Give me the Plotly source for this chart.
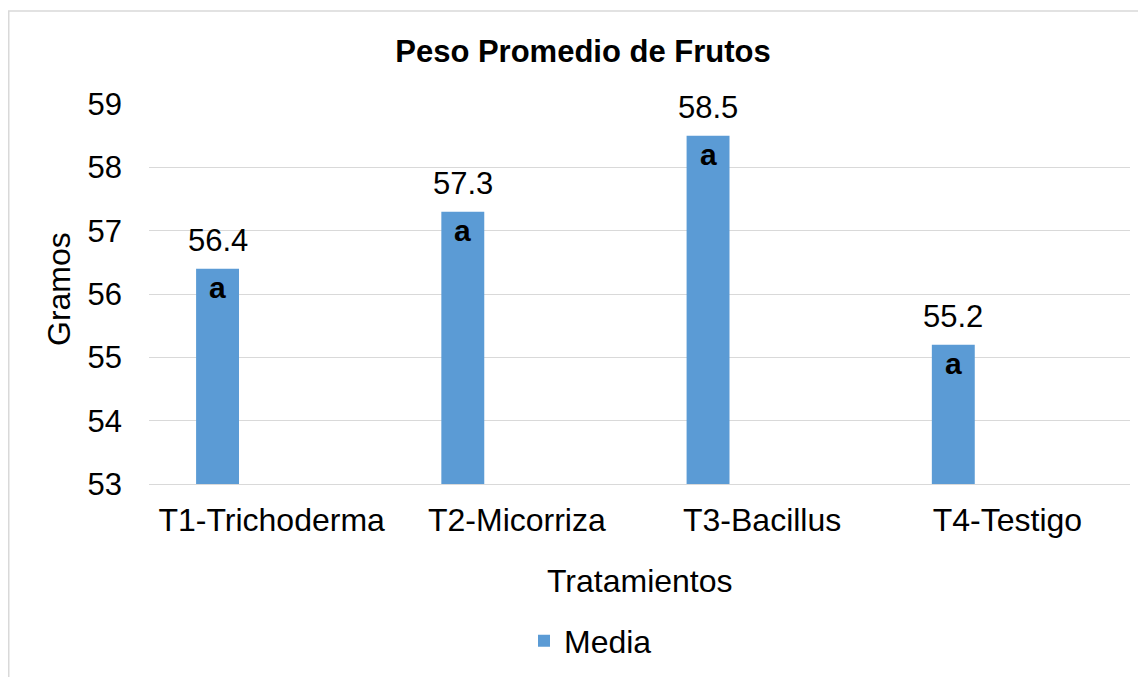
import plotly.graph_objects as go

categories = ["T1-Trichoderma", "T2-Micorriza", "T3-Bacillus", "T4-Testigo"]
media = [56.4, 57.3, 58.5, 55.2]
letters = ["a", "a", "a", "a"]
y_ticks = [53, 54, 55, 56, 57, 58, 59]

BAR_COLOR = "#5B9BD5"
GRID = "#D9D9D9"
FONT = "Liberation Sans, Arial, sans-serif"
BAR_OFFSET = -0.308
BAR_WIDTH = 0.175

# page body has an 8px margin; positions below are in screen pixels and converted
PAGE = 8
W, H = 1146 - PAGE, 677 - PAGE
L, R, T, B = 149 - PAGE, 1130 - PAGE, 104 - PAGE, 484 - PAGE
pw, ph = R - L, B - T

def px_x(p):
    return (p - PAGE - L) / pw

def px_y(p):
    return (B - (p - PAGE)) / ph

fig = go.Figure()
fig.add_trace(go.Bar(
    x=categories, y=media, name="Media",
    marker=dict(color=BAR_COLOR, line=dict(width=0)),
    offset=BAR_OFFSET, width=BAR_WIDTH,
    hoverinfo="x+y",
))

annotations = []
center = BAR_OFFSET + BAR_WIDTH / 2
for i, (v, l) in enumerate(zip(media, letters)):
    annotations.append(dict(x=i + center, y=v, xref="x", yref="y", text=f"{v:.1f}",
                            showarrow=False, yshift=28, yanchor="middle", xanchor="center",
                            font=dict(size=31, color="#000000", family=FONT)))
    annotations.append(dict(x=i + center, y=v, xref="x", yref="y", text=f"<b>{l}</b>",
                            showarrow=False, yshift=-19, yanchor="middle", xanchor="center",
                            font=dict(size=30, color="#000000", family=FONT)))

annotations.append(dict(x=px_x(639.5), y=px_y(581), xref="paper", yref="paper", text="Tratamientos",
                        showarrow=False, xanchor="center", yanchor="middle",
                        font=dict(size=32, color="#000000", family=FONT)))
annotations.append(dict(x=px_x(59), y=px_y(289), xref="paper", yref="paper", text="Gramos",
                        showarrow=False, xanchor="center", yanchor="middle", textangle=-90,
                        font=dict(size=32, color="#000000", family=FONT)))

fig.update_layout(
    width=W, height=H,
    margin=dict(l=L, r=W - R, t=T, b=H - B, autoexpand=False),
    paper_bgcolor="white", plot_bgcolor="white",
    title=dict(text="<b>Peso Promedio de Frutos</b>", x=(583 - PAGE) / W, xref="container",
               xanchor="center", y=1 - (51 - PAGE) / H, yanchor="middle",
               font=dict(size=31, color="#000000", family=FONT)),
    showlegend=True,
    legend=dict(orientation="h", x=px_x(524), xanchor="left", y=px_y(641), yanchor="middle",
                font=dict(size=32, color="#000000", family=FONT), bgcolor="rgba(0,0,0,0)"),
    xaxis=dict(type="category", range=[-0.5, 3.5], showgrid=False, showline=True,
               linecolor=GRID, linewidth=1, ticks="", ticklabelstandoff=8,
               tickfont=dict(size=32, color="#000000", family=FONT)),
    yaxis=dict(range=[53, 59], tickvals=y_ticks, showgrid=True, gridcolor=GRID, gridwidth=1.2,
               zeroline=False, showline=False, ticks="", ticklabelstandoff=26,
               tickfont=dict(size=31, color="#000000", family=FONT)),
    annotations=annotations,
    shapes=[dict(type="rect", xref="paper", yref="paper",
                 x0=px_x(8.75), x1=px_x(1180), y0=px_y(720), y1=px_y(11),
                 line=dict(color=GRID, width=1.5), fillcolor="rgba(0,0,0,0)", layer="below")],
)

fig.write_html("out.html")
